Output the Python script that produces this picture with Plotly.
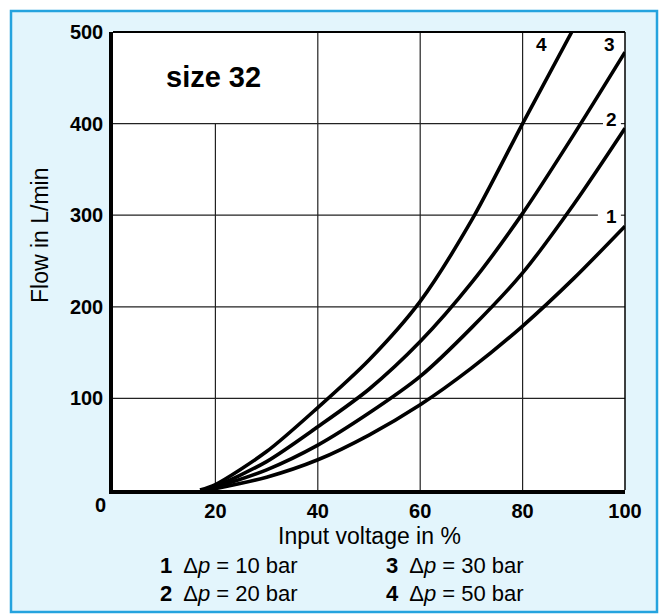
import plotly.graph_objects as go

# ---- data ----
x_ticks = [20, 40, 60, 80, 100]
y_ticks = [100, 200, 300, 400, 500]

c1_x = [18.5, 20, 30, 40, 50, 60, 70, 80, 90, 100]
c1_y = [0, 1.5, 14, 33, 60, 93, 133, 179, 231, 288]
c2_x = [18, 20, 30, 40, 50, 60, 70, 80, 90, 100]
c2_y = [0, 3, 22, 49, 84, 124, 177, 237, 312, 395]
c3_x = [17.5, 20, 30, 40, 50, 60, 70, 80, 90, 100]
c3_y = [0, 4, 31, 69, 110, 162, 226, 302, 388, 478]
c4_x = [17, 20, 30, 40, 50, 60, 70, 80, 89.6]
c4_y = [0, 6, 42, 90, 142, 206, 294, 400, 500]

curves = [(c1_x, c1_y), (c2_x, c2_y), (c3_x, c3_y), (c4_x, c4_y)]

curve_labels = ["1", "2", "3", "4"]
curve_label_x = [97.4, 97.4, 97.0, 83.6]
curve_label_y = [299, 405, 486, 486]

legend_items = ["<b>1</b>  Δ<i>p</i> = 10 bar", "<b>2</b>  Δ<i>p</i> = 20 bar",
                "<b>3</b>  Δ<i>p</i> = 30 bar", "<b>4</b>  Δ<i>p</i> = 50 bar"]

grid_x = [20, 40, 60, 80]
grid_x_top = [400, 500, 500, 500]
grid_y = [100, 200, 300, 400]
grid_y_right = [100, 100, 94.7, 95.7]

W, H = 663, 614
L, R, T, B = 113, 38, 32, 124
PW, PH = W - L - R, H - T - B


def px(xp):
    return (xp - L) / PW


def py(yp):
    return (H - B - yp) / PH


FONT = "Liberation Sans, Arial, Helvetica, sans-serif"

fig = go.Figure()
for cx, cy in curves:
    fig.add_trace(go.Scatter(x=cx, y=cy, mode="lines",
                             line=dict(color="black", width=3.6, shape="spline", smoothing=0.8),
                             hoverinfo="skip", showlegend=False))

shapes = []
# panel background
shapes.append(dict(type="rect", xref="paper", yref="paper", layer="below",
                   x0=px(11), x1=px(657), y0=py(612), y1=py(11),
                   fillcolor="#e3f5fc", line=dict(color="#25a3de", width=2.5)))
shapes.append(dict(type="rect", xref="paper", yref="paper", layer="below",
                   x0=0, x1=1, y0=0, y1=1, fillcolor="white", line=dict(width=0)))
# gridlines
for gx, top in zip(grid_x, grid_x_top):
    shapes.append(dict(type="line", xref="x", yref="y", layer="below",
                       x0=gx, x1=gx, y0=0, y1=top, line=dict(color="#222", width=1.2)))
for gy, right in zip(grid_y, grid_y_right):
    shapes.append(dict(type="line", xref="x", yref="y", layer="below",
                       x0=0, x1=right, y0=gy, y1=gy, line=dict(color="#222", width=1.2)))
    if right < 100:
        shapes.append(dict(type="line", xref="x", yref="y", layer="below",
                           x0=99.2, x1=100, y0=gy, y1=gy, line=dict(color="#222", width=1.2)))
# top and right frame
shapes.append(dict(type="line", xref="paper", yref="paper", x0=0, x1=1, y0=1, y1=1,
                   line=dict(color="black", width=2)))
shapes.append(dict(type="line", xref="paper", yref="paper", x0=1, x1=1, y0=0, y1=1,
                   line=dict(color="black", width=1.5)))

ann = []
for t, lx, ly in zip(curve_labels, curve_label_x, curve_label_y):
    ann.append(dict(x=lx, y=ly, xref="x", yref="y", text="<b>%s</b>" % t, showarrow=False,
                    xanchor="center", yanchor="middle",
                    font=dict(family=FONT, size=19, color="black")))
ann.append(dict(x=px(213), y=py(77), xref="paper", yref="paper", text="<b>size 32</b>",
                showarrow=False, xanchor="center", yanchor="middle",
                font=dict(family=FONT, size=29, color="black")))
ann.append(dict(x=px(100), y=py(505), xref="paper", yref="paper", text="<b>0</b>",
                showarrow=False, xanchor="center", yanchor="middle",
                font=dict(family=FONT, size=20, color="black")))
ann.append(dict(x=px(369), y=py(536), xref="paper", yref="paper", text="Input voltage in %",
                showarrow=False, xanchor="center", yanchor="middle",
                font=dict(family=FONT, size=23, color="black")))
ann.append(dict(x=px(40), y=py(236), xref="paper", yref="paper", text="Flow in L/min",
                showarrow=False, textangle=-90, xanchor="center", yanchor="middle",
                font=dict(family=FONT, size=23, color="black")))
leg_pos = [(158, 565), (158, 593), (384, 565), (384, 593)]
for t, (lx, ly) in zip(legend_items, leg_pos):
    ann.append(dict(x=px(lx), y=py(ly), xref="paper", yref="paper", text=t,
                    xanchor="left", yanchor="middle",
                    showarrow=False, font=dict(family=FONT, size=22, color="black")))

fig.update_layout(
    width=W, height=H, margin=dict(l=L, r=R, t=T, b=B, autoexpand=False),
    paper_bgcolor="white", plot_bgcolor="white",
    shapes=shapes, annotations=ann, showlegend=False,
    xaxis=dict(range=[0, 100], tickvals=x_ticks, ticktext=[str(v) for v in x_ticks],
               showgrid=False, zeroline=False, showline=True, linecolor="black", linewidth=4,
               ticks="", ticklabelstandoff=0,
               tickfont=dict(family=FONT, size=20, color="black", weight="bold")),
    yaxis=dict(range=[0, 500], tickvals=y_ticks, ticktext=[str(v) for v in y_ticks],
               showgrid=False, zeroline=False, showline=True, linecolor="black", linewidth=3.5,
               ticks="", ticklabelstandoff=2,
               tickfont=dict(family=FONT, size=20, color="black", weight="bold")),
)

fig.write_html("out.html", config={"displayModeBar": False},
               post_script="document.body.style.margin='0px';document.body.style.overflow='hidden';")
